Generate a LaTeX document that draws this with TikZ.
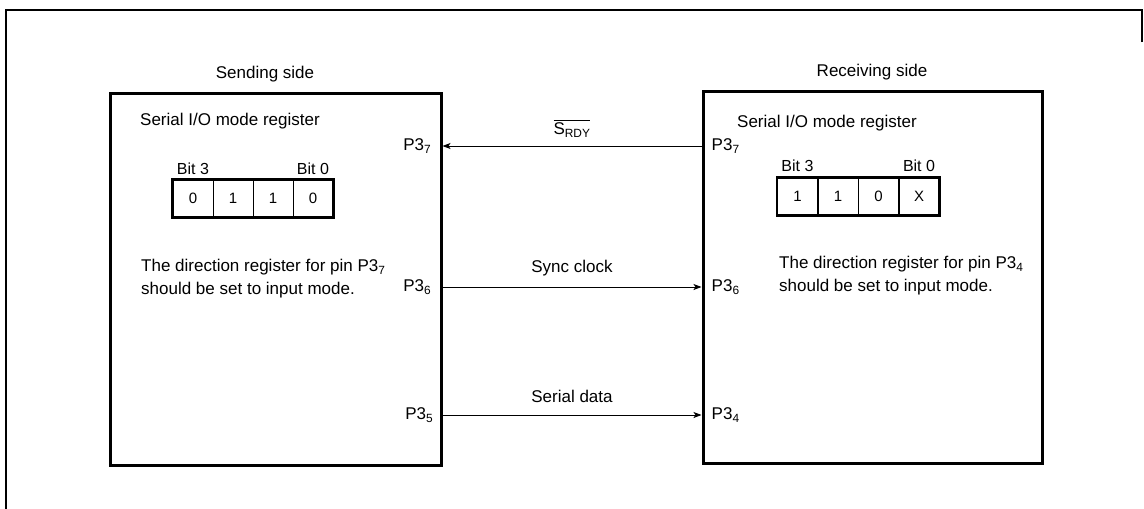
\documentclass[tikz,border=0pt]{standalone}
\usepackage{amsmath}
\usepackage{fontspec}
\setmainfont{Liberation Sans}
\usepackage{tikz}
\usetikzlibrary{positioning,arrows.meta}
\newcommand\lblsize{\fontsize{17}{23}\selectfont}
\newcommand\bitsize{\fontsize{16}{18}\selectfont}
\newcommand\cellsize{\fontsize{15}{16}\selectfont}
\tikzset{
  frame/.style={line width=2pt},
  side/.style={draw,line width=3pt,minimum height=372pt,inner sep=0pt},
  regcell/.style={draw,line width=0.7pt,minimum width=40pt,minimum height=37pt,inner sep=0pt,font=\cellsize},
  regframe/.style={line width=2.5pt},
  lbl/.style={font=\lblsize,inner sep=0pt},
  bitlbl/.style={font=\bitsize,inner sep=0pt,text depth=0pt},
  sig/.style={->,>={Stealth[length=8pt,width=6pt,inset=2pt]},line width=0.9pt},
}

\begin{document}
\begin{tikzpicture}[x=1pt,y=-1pt]
  \useasboundingbox (0,0) rectangle (1144,509);
  % outer frame
  \draw[frame] (1142,42) -- (1142,10) -- (6,10) -- (6,509);
  % the two sides
  \node[side,minimum width=331pt] (send) at (275.5,279) {};
  \node[side,minimum width=339pt] (recv) at (872.5,277) {};
  \node[lbl,anchor=base] (sendtitle) at (265,78) {Sending side};
  \node[lbl,anchor=base] (recvtitle) at (872,76) {Receiving side};
  \node[lbl,anchor=base west] (sendmode) at (140,125) {Serial I/O mode register};
  \node[lbl,anchor=base west] (recvmode) at (737,127) {Serial I/O mode register};
  % mode registers
  \foreach \v [count=\i] in {0,1,1,0}
    \node[regcell] (sc\i) at (153+40*\i,198.5) {\v};
  \foreach \v [count=\i] in {1,1,0,X}
    \node[regcell] (rc\i) at (757+40.5*\i,196.5) {\v};
  \draw[regframe] (sc1.north west) rectangle (sc4.south east);
  \draw[regframe] (rc1.north west) rectangle (rc4.south east);
  \node[bitlbl,above=5pt of sc1] (sb3) {Bit 3};
  \node[bitlbl,above=5pt of sc4] (sb0) {Bit 0};
  \node[bitlbl,above=6pt of rc1] (rb3) {Bit 3};
  \node[bitlbl,above=6pt of rc4] (rb0) {Bit 0};
  % notes
  \node[lbl,align=left,anchor=north west] (sendnote) at (141,259)
    {The direction register for pin P3\textsubscript{7}\\should be set to input mode.};
  \node[lbl,align=left,anchor=north west] (recvnote) at (779,256)
    {The direction register for pin P3\textsubscript{4}\\should be set to input mode.};
  % signal lines
  \path (recv.west |- 0,146) coordinate (r7) (send.east |- 0,146) coordinate (s7)
        (send.east |- 0,287) coordinate (s6) (recv.west |- 0,287) coordinate (r6)
        (send.east |- 0,415) coordinate (s5) (recv.west |- 0,415) coordinate (r4);
  \draw[sig] (r7) -- node[lbl,above=11pt,text depth=0pt] (rdy) {$\overline{\text{S}_{\text{RDY}}}$} (s7);
  \draw[sig] (s6) -- node[lbl,above=14pt,text depth=0pt] (clk) {Sync clock} (r6);
  \draw[sig] (s5) -- node[lbl,above=12pt,text depth=0pt] (sdat) {Serial data} (r4);
  \node[lbl,left=11pt of s7] (sp7) {P3\textsubscript{7}};
  \node[lbl,left=11pt of s6] (sp6) {P3\textsubscript{6}};
  \node[lbl,left=9pt of s5] (sp5) {P3\textsubscript{5}};
  \node[lbl,right=10pt of r7] (rp7) {P3\textsubscript{7}};
  \node[lbl,right=10pt of r6] (rp6) {P3\textsubscript{6}};
  \node[lbl,right=10pt of r4] (rp4) {P3\textsubscript{4}};
\end{tikzpicture}
\end{document}
